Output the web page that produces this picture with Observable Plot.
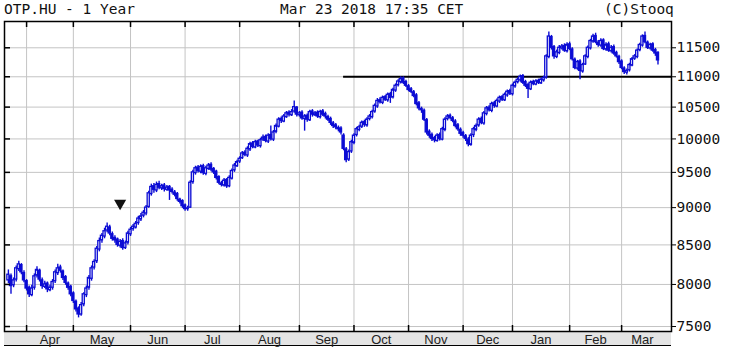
<!DOCTYPE html>
<html>
<head>
<meta charset="utf-8">
<script src="https://cdn.jsdelivr.net/npm/d3@7"></script>
<script src="https://cdn.jsdelivr.net/npm/@observablehq/plot@0.6"></script>
<style>
  html, body { margin: 0; padding: 0; background: #fff; }
  #wrap { position: relative; width: 729px; height: 349px; overflow: hidden; background: #fff; }
  .ttl { position: absolute; top: 1px; font: 14.5px "DejaVu Sans Mono", monospace; color: #111; white-space: pre; }
  #strip { position: absolute; left: 4px; top: 331px; width: 667px; height: 14px; background: #e4e4e4; border-bottom: 1px solid #000; }
  #chart { position: absolute; left: 0; top: 0; }
</style>
</head>
<body>
<div id="wrap">
  <div id="strip"></div>
  <div id="chart"></div>
  <div class="ttl" id="t1" style="left:4px"></div>
  <div class="ttl" id="t2" style="left:280px"></div>
  <div class="ttl" id="t3" style="left:604px"></div>
</div>
<script>
const titleLeft = "OTP.HU - 1 Year";
const titleMid = "Mar 23 2018 17:35 CET";
const titleRight = "(C)Stooq";

const monthLabels = ["Apr","May","Jun","Jul","Aug","Sep","Oct","Nov","Dec","Jan","Feb","Mar"];
const monthStarts = [7,25,47,68,89,112,133,154,175,194,216,236];
const dataEnd = 252;
const yTicks = [7500,8000,8500,9000,9500,10000,10500,11000,11500];

const levelValue = 11000;
const levelStart = 129;
const markerIdx = [43];
const markerVal = [9060];

const opens = [8050,8100,7990,8060,8190,8240,8140,8040,7960,7870,
7960,8110,8170,8050,7970,8010,7930,7960,8040,8140,
8210,8160,8090,8010,7970,7890,7790,7710,7640,7760,
7870,7960,8070,8210,8290,8440,8560,8610,8690,8730,
8640,8590,8570,8490,8550,8460,8530,8640,8710,8730,
8790,8840,8890,8920,9010,9190,9300,9240,9330,9270,
9310,9250,9290,9250,9210,9190,9110,9090,9030,8980,
9000,9360,9490,9570,9510,9590,9480,9550,9610,9550,
9510,9430,9340,9310,9390,9300,9410,9530,9590,9660,
9710,9790,9750,9840,9930,9870,9960,9890,9990,10030,
9960,10060,9990,10110,10190,10310,10270,10340,10410,10370,
10430,10490,10370,10410,10310,10360,10290,10430,10370,10410,
10340,10430,10390,10340,10310,10240,10210,10170,10160,10050,
9840,9690,9810,9940,10060,10140,10190,10260,10210,10310,
10340,10430,10510,10610,10570,10660,10610,10710,10660,10770,
10860,10910,10970,10910,10840,10790,10740,10690,10560,10470,
10440,10290,10110,10060,10010,9970,10060,9990,10140,10310,
10360,10320,10270,10210,10140,10090,10040,9990,9910,10060,
10140,10210,10310,10240,10390,10490,10440,10560,10510,10590,
10660,10610,10690,10760,10710,10840,10910,10940,11010,10910,
10860,10790,10910,10870,10930,10890,10940,10990,11340,11690,
11510,11340,11410,11490,11530,11440,11560,11470,11290,11140,
11260,11090,11210,11340,11490,11610,11710,11590,11540,11630,
11470,11560,11440,11510,11410,11340,11260,11140,11070,11110,
11190,11310,11340,11460,11540,11710,11590,11490,11560,11460,
11410];

const closes = [8120,7980,8050,8200,8250,8150,8050,7950,7880,7950,
8100,8180,8060,7980,8000,7940,7960,8030,8150,8200,
8170,8080,8020,7960,7880,7800,7700,7640,7750,7880,
7950,8080,8200,8280,8450,8550,8620,8680,8740,8650,
8580,8560,8500,8540,8460,8520,8650,8700,8740,8780,
8850,8880,8930,9000,9200,9290,9250,9320,9280,9300,
9260,9280,9240,9220,9180,9120,9080,9020,8980,8990,
9350,9500,9560,9520,9580,9490,9560,9600,9540,9500,
9420,9350,9320,9380,9300,9420,9520,9600,9650,9700,
9780,9760,9850,9920,9880,9950,9900,9980,10020,9970,
10050,10000,10100,10200,10300,10280,10350,10400,10380,10420,
10500,10380,10400,10320,10350,10300,10420,10380,10400,10350,
10420,10380,10350,10300,10250,10200,10180,10150,10100,9850,
9680,9800,9950,10050,10150,10180,10250,10220,10300,10350,
10420,10520,10600,10580,10650,10620,10700,10650,10780,10850,
10920,10960,10900,10850,10780,10750,10680,10550,10480,10450,
10300,10100,10050,10000,9980,10050,10000,10150,10300,10350,
10330,10280,10200,10150,10080,10050,10000,9920,10050,10150,
10200,10300,10250,10400,10480,10450,10550,10520,10600,10650,
10620,10700,10750,10720,10850,10900,10950,11000,10900,10850,
10800,10900,10880,10920,10900,10950,10980,11350,11700,11500,
11350,11420,11500,11520,11450,11550,11480,11300,11150,11250,
11100,11200,11350,11500,11620,11700,11600,11550,11620,11480,
11550,11450,11500,11400,11350,11250,11150,11080,11100,11200,
11300,11350,11450,11550,11700,11600,11500,11550,11450,11400,
11280];

const highs = [8180,8130,8080,8230,8290,8260,8170,8060,7980,7990,
8130,8220,8190,8080,8040,8030,7990,8060,8180,8250,
8240,8180,8110,8030,7990,7910,7810,7730,7780,7900,
7980,8110,8230,8310,8480,8590,8650,8720,8790,8760,
8670,8620,8590,8570,8580,8550,8680,8730,8770,8810,
8880,8920,8960,9030,9230,9330,9340,9360,9370,9330,
9340,9310,9310,9280,9240,9210,9130,9110,9050,9020,
9380,9530,9590,9600,9610,9620,9590,9630,9640,9570,
9530,9450,9370,9410,9410,9450,9550,9630,9680,9730,
9810,9820,9880,9950,9960,9980,9980,10010,10060,10060,
10080,10200,10130,10230,10330,10340,10380,10430,10440,10460,
10600,10510,10430,10440,10380,10390,10450,10460,10430,10440,
10450,10460,10420,10370,10340,10270,10240,10200,10190,10080,
9870,9830,9980,10080,10180,10210,10280,10290,10330,10380,
10450,10550,10640,10650,10680,10690,10730,10740,10810,10880,
10950,11000,11000,10940,10870,10820,10770,10720,10590,10500,
10470,10320,10140,10090,10040,10080,10090,10180,10330,10380,
10390,10350,10300,10240,10170,10120,10070,10020,10080,10180,
10230,10330,10340,10430,10510,10520,10580,10590,10630,10680,
10690,10730,10780,10790,10880,10930,10980,11030,11040,10940,
10890,10930,10940,10950,10960,10980,11010,11380,11780,11720,
11540,11460,11540,11560,11570,11590,11600,11500,11320,11280,
11290,11230,11380,11530,11650,11740,11760,11630,11660,11660,
11590,11600,11540,11550,11440,11370,11290,11170,11130,11230,
11330,11380,11480,11580,11730,11780,11620,11580,11590,11490,
11430];

const lows = [8010,7880,7960,8030,8160,8120,8020,7920,7840,7850,
7930,8080,8030,7940,7950,7900,7910,7930,8010,8110,
8140,8050,7990,7930,7850,7770,7670,7600,7620,7730,
7840,7930,8040,8180,8260,8410,8520,8580,8660,8620,
8550,8520,8470,8460,8430,8440,8500,8610,8680,8710,
8760,8810,8860,8890,8990,9160,9200,9210,9250,9240,
9220,9230,9100,9190,9150,9090,9050,8990,8950,8950,
8990,9330,9460,9490,9480,9460,9450,9530,9510,9470,
9390,9320,9290,9290,9270,9280,9390,9500,9570,9630,
9690,9730,9720,9810,9850,9850,9870,9860,9960,9940,
9930,9970,9960,10080,10170,10240,10250,10320,10340,10350,
10400,10340,10340,10290,10120,10260,10270,10340,10350,10320,
10310,10350,10310,10270,10210,10160,10140,10110,10060,9820,
9640,9660,9780,9910,10030,10110,10160,10180,10180,10280,
10310,10400,10480,10550,10540,10590,10580,10560,10630,10740,
10830,10880,10870,10820,10750,10720,10650,10520,10440,10400,
10270,10060,10010,9960,9940,9950,9970,9970,10110,10280,
10300,10250,10170,10120,10040,10010,9960,9880,9890,10020,
10110,10180,10220,10210,10360,10420,10410,10480,10490,10560,
10590,10590,10660,10690,10680,10810,10880,10910,10870,10820,
10640,10770,10850,10850,10870,10870,10910,10960,11310,11460,
11300,11310,11380,11460,11420,11410,11450,11270,11120,11110,
10950,11060,11190,11310,11460,11580,11570,11510,11510,11450,
11440,11420,11410,11370,11320,11210,11120,11040,11030,11080,
11170,11280,11310,11430,11510,11570,11470,11460,11420,11350,
11200];

document.getElementById("t1").textContent = titleLeft;
document.getElementById("t2").textContent = titleMid;
document.getElementById("t3").textContent = titleRight;

const candles = closes.map((c, i) => ({i, o: opens[i], h: highs[i], l: lows[i], c}));
const months = monthLabels.map((m, k) => ({
  label: m,
  mid: (monthStarts[k] + (k + 1 < monthStarts.length ? monthStarts[k + 1] : dataEnd)) / 2
}));
const blue = "#0c0cd4";

const chart = Plot.plot({
  width: 729,
  height: 349,
  marginLeft: 4,
  marginRight: 58,
  marginTop: 21,
  marginBottom: 18,
  style: {background: "transparent", fontFamily: "DejaVu Sans Mono, monospace", fontSize: "14.5px", color: "#111"},
  x: {type: "linear", domain: [-1.5, 255.2], axis: null},
  y: {type: "log", domain: [7443, 11973], axis: null},
  marks: [
    Plot.ruleY(yTicks, {stroke: "#c4c4c4", strokeWidth: 1}),
    Plot.ruleX(monthStarts, {stroke: "#c4c4c4", strokeWidth: 1}),
    Plot.ruleY([levelValue], {x1: levelStart, x2: 255.2, stroke: "#000", strokeWidth: 2}),
    Plot.ruleX(candles, {x: "i", y1: "l", y2: "h", stroke: blue, strokeWidth: 1.4}),
    Plot.rect(candles, {
      x1: d => d.i - 0.5, x2: d => d.i + 0.5,
      y1: "o", y2: "c",
      insetLeft: 0.25, insetRight: 0.25,
      fill: d => d.c >= d.o ? "#ffffff" : blue,
      stroke: blue, strokeWidth: 1.3
    }),
    Plot.dot(markerIdx, {x: d => d, y: (d, k) => markerVal[k], symbol: "triangle", rotate: 180, r: 4.5, fill: "#111", stroke: "none"}),
    Plot.frame({stroke: "#000", strokeWidth: 1.5}),
    Plot.tickX(monthStarts, {stroke: "#000", strokeWidth: 1.5, insetBottom: 304}),
    Plot.tickX(monthStarts, {stroke: "#000", strokeWidth: 1.5, insetTop: 304}),
    Plot.tickY(yTicks, {stroke: "#000", strokeWidth: 1.5, insetRight: 661}),
    Plot.axisY(yTicks, {anchor: "right", tickSize: 4, tickPadding: 1, tickFormat: d => String(d), stroke: "#000", fontSize: 14.5, fill: "#111"}),
    Plot.text(months, {x: "mid", frameAnchor: "bottom", dy: 8, text: "label", fontFamily: "Liberation Sans, Arial, sans-serif", fontSize: 13, fill: "#222", lineAnchor: "middle"})
  ]
});
document.getElementById("chart").appendChild(chart);
</script>
</body>
</html>
